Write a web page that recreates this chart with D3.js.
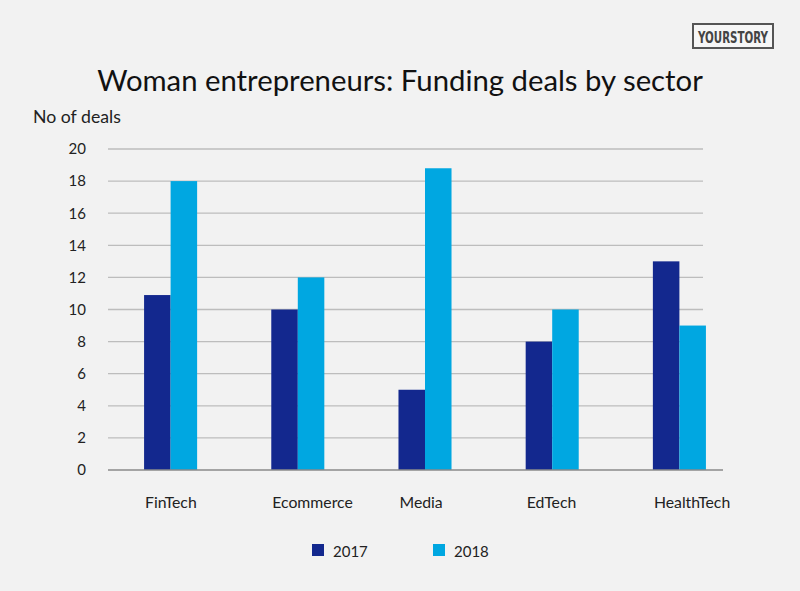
<!DOCTYPE html>
<html><head><meta charset="utf-8">
<script src="https://cdn.jsdelivr.net/npm/d3@7"></script>
<style>html,body{margin:0;padding:0;background:#f2f2f2;}svg{display:block;}</style>
</head><body>
<svg id="c" width="800" height="591"></svg>
<script>
const categories = ["FinTech", "Ecommerce", "Media", "EdTech", "HealthTech"];
const years = ["2017", "2018"];
const values2017 = [10.9, 10, 5, 8, 13];
const values2018 = [18, 12, 18.8, 10, 9];
const yTicks = [0, 2, 4, 6, 8, 10, 12, 14, 16, 18, 20];
const colors = ["#13288e", "#00a7e1"];
const titleText = "Woman entrepreneurs: Funding deals by sector";

const font = "Lato, 'Open Sans', sans-serif";
const svg = d3.select("#c");
svg.append("rect").attr("width", 800).attr("height", 591).attr("fill", "#f2f2f2");

const y = d3.scaleLinear().domain([0, 20]).range([470, 149]);
const x = d3.scaleBand().domain(categories).range([107, 743]).paddingInner(0.583).paddingOuter(0.2915);
const xs = d3.scaleBand().domain(years).range([0, x.bandwidth()]);

// fit text to a target width
function fit(sel, target, base) {
  const w = sel.node().getComputedTextLength();
  sel.attr("font-size", base * target / w);
}

// gridlines
svg.append("g").selectAll("line").data(yTicks.filter(d => d > 0)).join("line")
  .attr("x1", 108).attr("x2", 703)
  .attr("y1", d => y(d)).attr("y2", d => y(d))
  .attr("stroke", "#bdbdbd").attr("stroke-width", 1.3);

// y axis labels
const yAxis = d3.axisLeft(y).tickValues(yTicks).tickSize(0).tickPadding(0);
const gy = svg.append("g").attr("transform", "translate(86,0)").call(yAxis);
gy.select(".domain").remove();
gy.selectAll("text").attr("font-family", font).attr("font-size", 15).attr("fill", "#222");

// bars
const series = [values2017, values2018];
years.forEach((yr, i) => {
  svg.append("g").selectAll("rect").data(categories).join("rect")
    .attr("x", c => x(c) + xs(yr))
    .attr("width", xs.bandwidth())
    .attr("y", (c, j) => y(series[i][j]))
    .attr("height", (c, j) => y(0) - y(series[i][j]))
    .attr("fill", colors[i]);
});

// baseline
svg.append("line").attr("x1", 108).attr("x2", 723).attr("y1", y(0)).attr("y2", y(0))
  .attr("stroke", "#8a8a8a").attr("stroke-width", 1.3);

// x labels (left-aligned at group start)
svg.append("g").selectAll("text").data(categories).join("text")
  .attr("x", c => x(c) + 1).attr("y", 508)
  .attr("font-family", font).attr("font-size", 15.8).attr("fill", "#222")
  .text(c => c);

// y title
const yt = svg.append("text").attr("x", 33).attr("y", 123)
  .attr("font-family", font).attr("font-size", 16).attr("fill", "#222").text("No of deals");
fit(yt, 88, 16);

// title
const t = svg.append("text").attr("x", 400).attr("y", 91).attr("text-anchor", "middle")
  .attr("font-family", font).attr("font-size", 30).attr("fill", "#111").text(titleText);
fit(t, 606, 30);

// legend
const legX = [312, 433];
years.forEach((yr, i) => {
  svg.append("rect").attr("x", legX[i]).attr("y", 544).attr("width", 12).attr("height", 12).attr("fill", colors[i]);
  svg.append("text").attr("x", legX[i] + 21).attr("y", 557)
    .attr("font-family", font).attr("font-size", 15).attr("fill", "#222").text(yr);
});

// logo
svg.append("rect").attr("x", 693).attr("y", 24).attr("width", 80).attr("height", 24)
  .attr("fill", "#f6f6f6").attr("stroke", "#555").attr("stroke-width", 2);
svg.append("text").attr("x", 698).attr("y", 42.5)
  .attr("font-family", "'DejaVu Sans Condensed', 'Liberation Sans Narrow', sans-serif")
  .attr("font-weight", "bold").attr("font-size", 15).attr("fill", "#444")
  .attr("textLength", 70).attr("lengthAdjust", "spacingAndGlyphs").text("YOURSTORY");
</script>
</body></html>
